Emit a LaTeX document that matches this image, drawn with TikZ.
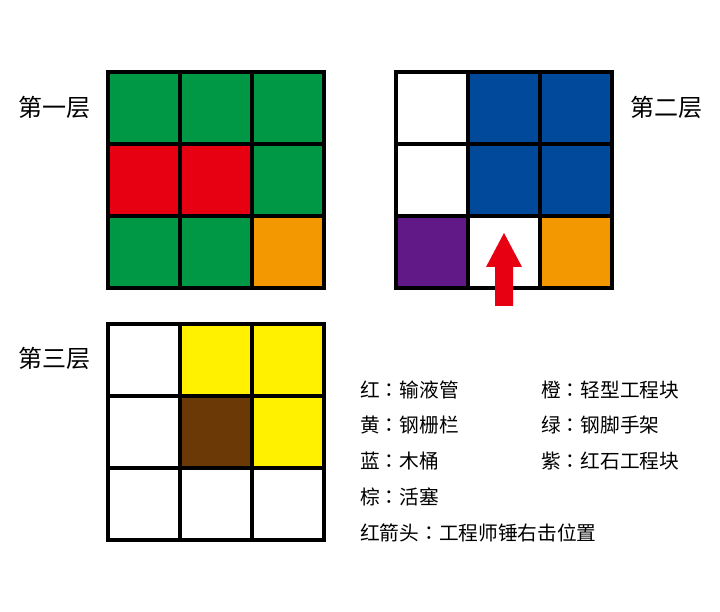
\documentclass[tikz,border=0pt]{standalone}
\usepackage{fontspec}
\setmainfont{Noto Sans CJK SC}
\newfontfamily\colonfont{Noto Sans CJK JP}
\newcommand{\fwcolon}{{\colonfont ：}}
\definecolor{cgreen}{RGB}{0,152,68}
\definecolor{cred}{RGB}{230,0,18}
\definecolor{corange}{RGB}{243,152,0}
\definecolor{cblue}{RGB}{0,73,155}
\definecolor{cpurple}{RGB}{96,25,134}
\definecolor{cyellow}{RGB}{255,241,0}
\definecolor{cbrown}{RGB}{106,57,6}
\tikzset{
  cell/.style={draw=black, line width=4pt, minimum size=72pt, inner sep=0pt, outer sep=0pt, fill=#1},
  cell/.default=white,
  layerlabel/.style={font=\fontsize{24}{24}\selectfont, inner sep=0pt},
  legend/.style={font=\fontsize{19.7}{19.7}\selectfont, inner sep=0pt, anchor=west},
  redarrow/.style={fill=cred, draw=none}
}
\begin{document}
\begin{tikzpicture}[x=1pt,y=-1pt]
\useasboundingbox (0,0) rectangle (720,612);
% layer 1
\node[cell=cgreen] (a11) at (144,108) {};
\node[cell=cgreen] (a12) at (216,108) {};
\node[cell=cgreen] (a13) at (288,108) {};
\node[cell=cred] (a21) at (144,180) {};
\node[cell=cred] (a22) at (216,180) {};
\node[cell=cgreen] (a23) at (288,180) {};
\node[cell=cgreen] (a31) at (144,252) {};
\node[cell=cgreen] (a32) at (216,252) {};
\node[cell=corange] (a33) at (288,252) {};
% layer 2
\node[cell] (b11) at (432,108) {};
\node[cell=cblue] (b12) at (504,108) {};
\node[cell=cblue] (b13) at (576,108) {};
\node[cell] (b21) at (432,180) {};
\node[cell=cblue] (b22) at (504,180) {};
\node[cell=cblue] (b23) at (576,180) {};
\node[cell=cpurple] (b31) at (432,252) {};
\node[cell] (b32) at (504,252) {};
\node[cell=corange] (b33) at (576,252) {};
% layer 3
\node[cell] (c11) at (144,360) {};
\node[cell=cyellow] (c12) at (216,360) {};
\node[cell=cyellow] (c13) at (288,360) {};
\node[cell] (c21) at (144,432) {};
\node[cell=cbrown] (c22) at (216,432) {};
\node[cell=cyellow] (c23) at (288,432) {};
\node[cell] (c31) at (144,504) {};
\node[cell] (c32) at (216,504) {};
\node[cell] (c33) at (288,504) {};
% red arrow
\fill[redarrow] (495,306) -- (495,267) -- (486,267) -- (504,233) -- (522,267) -- (513,267) -- (513,306) -- cycle;
% labels
\node[layerlabel] (l1) at (54,107) {第一层};
\node[layerlabel] (l2) at (666,107) {第二层};
\node[layerlabel] (l3) at (54,358) {第三层};
% legend
\node[legend] (k1) at (360,390) {红\fwcolon 输液管};
\node[legend] (k2) at (360,425) {黄\fwcolon 钢栅栏};
\node[legend] (k3) at (360,461) {蓝\fwcolon 木桶};
\node[legend] (k4) at (360,497) {棕\fwcolon 活塞};
\node[legend] (k5) at (360,533) {红箭头\fwcolon 工程师锤右击位置};
\node[legend] (k6) at (541,390) {橙\fwcolon 轻型工程块};
\node[legend] (k7) at (541,425) {绿\fwcolon 钢脚手架};
\node[legend] (k8) at (541,461) {紫\fwcolon 红石工程块};
\end{tikzpicture}
\end{document}
